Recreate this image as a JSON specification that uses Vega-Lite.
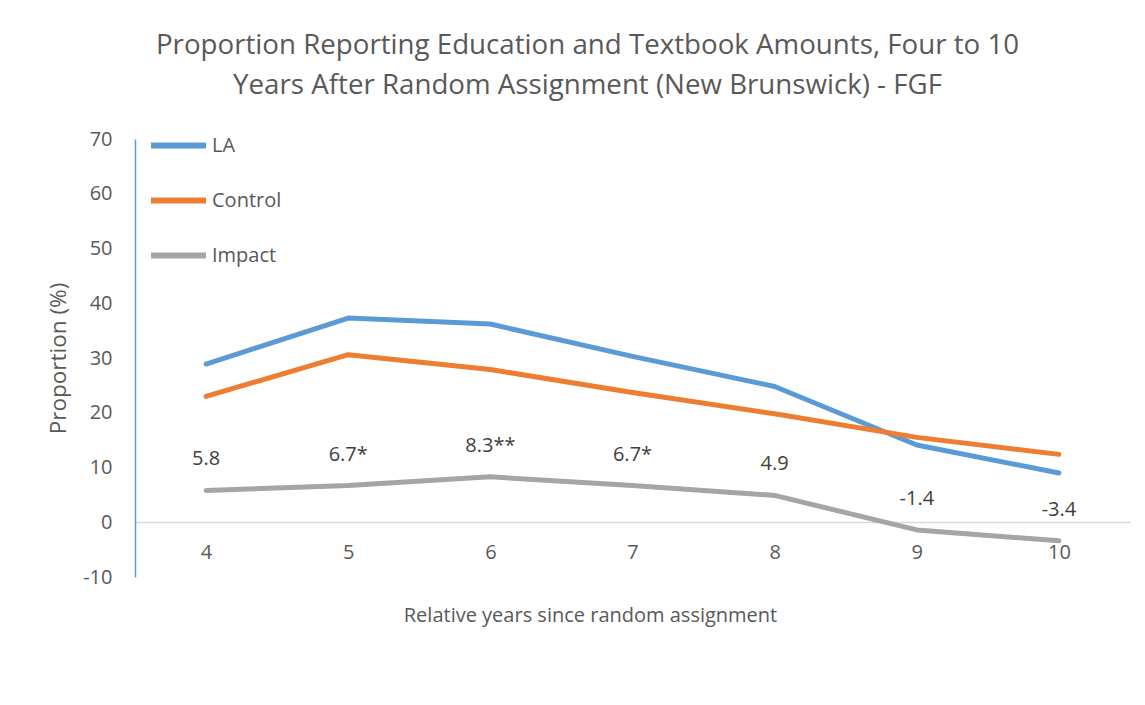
{
  "$schema": "https://vega.github.io/schema/vega-lite/v6.json",
  "width": 995,
  "height": 438,
  "autosize": {"type": "none"},
  "padding": {"left": 135, "top": 139, "right": 15, "bottom": 128},
  "background": "white",
  "config": {"view": {"stroke": null}, "font": "Open Sans"},
  "title": {
    "text": ["Proportion Reporting Education and Textbook Amounts, Four to 10", "Years After Random Assignment (New Brunswick) - FGF"],
    "fontSize": 27.7,
    "fontWeight": "normal",
    "color": "#595959",
    "lineHeight": 40,
    "anchor": "middle",
    "offset": 15,
    "dx": -45
  },
  "data": {
    "values": [
      {"year": 4, "series": "LA", "value": 28.9},
      {"year": 5, "series": "LA", "value": 37.3},
      {"year": 6, "series": "LA", "value": 36.2},
      {"year": 7, "series": "LA", "value": 30.3},
      {"year": 8, "series": "LA", "value": 24.8},
      {"year": 9, "series": "LA", "value": 14.1},
      {"year": 10, "series": "LA", "value": 9.0},
      {"year": 4, "series": "Control", "value": 23.0},
      {"year": 5, "series": "Control", "value": 30.6},
      {"year": 6, "series": "Control", "value": 27.9},
      {"year": 7, "series": "Control", "value": 23.7},
      {"year": 8, "series": "Control", "value": 19.8},
      {"year": 9, "series": "Control", "value": 15.5},
      {"year": 10, "series": "Control", "value": 12.4},
      {"year": 4, "series": "Impact", "value": 5.8, "label": "5.8"},
      {"year": 5, "series": "Impact", "value": 6.7, "label": "6.7*"},
      {"year": 6, "series": "Impact", "value": 8.3, "label": "8.3**"},
      {"year": 7, "series": "Impact", "value": 6.7, "label": "6.7*"},
      {"year": 8, "series": "Impact", "value": 4.9, "label": "4.9"},
      {"year": 9, "series": "Impact", "value": -1.4, "label": "-1.4"},
      {"year": 10, "series": "Impact", "value": -3.4, "label": "-3.4"}
    ]
  },
  "encoding": {
    "x": {
      "field": "year",
      "type": "ordinal",
      "scale": {"type": "point", "padding": 0.5},
      "axis": {
        "title": "Relative years since random assignment",
        "titleFontSize": 20,
        "titleFontWeight": "normal",
        "titleColor": "#595959",
        "titlePadding": 43,
        "titleX": 455,
        "labelAngle": 0,
        "labelFontSize": 20,
        "labelColor": "#595959",
        "labelPadding": 20,
        "ticks": false,
        "domainColor": "#D9D9D9",
        "domainWidth": 1.5,
        "offset": -55,
        "grid": false
      }
    },
    "y": {
      "field": "value",
      "type": "quantitative",
      "scale": {"domain": [-10, 70], "nice": false, "zero": false},
      "axis": {
        "title": "Proportion (%)",
        "titleFontSize": 22.5,
        "titleFontWeight": "normal",
        "titleColor": "#595959",
        "titlePadding": 12,
        "values": [-10, 0, 10, 20, 30, 40, 50, 60, 70],
        "labelExpr": "'' + datum.value",
        "labelFontSize": 20,
        "labelColor": "#595959",
        "labelPadding": 23,
        "ticks": false,
        "grid": false,
        "domainColor": "#5B9BD5",
        "domainWidth": 1.5
      }
    }
  },
  "layer": [
    {
      "mark": {"type": "line", "strokeWidth": 5, "strokeCap": "round", "strokeJoin": "round"},
      "encoding": {
        "color": {
          "field": "series",
          "type": "nominal",
          "scale": {"domain": ["LA", "Control", "Impact"], "range": ["#5B9BD5", "#ED7D31", "#A5A5A5"]},
          "legend": {
            "title": null,
            "orient": "none",
            "legendX": 13,
            "legendY": -24,
            "symbolType": "stroke",
            "symbolSize": 3025,
            "symbolStrokeWidth": 6,
            "labelFontSize": 20,
            "labelColor": "#595959",
            "labelOffset": 3,
            "rowPadding": 12
          }
        }
      }
    },
    {
      "transform": [{"filter": "datum.series === 'Impact'"}],
      "mark": {"type": "text", "dy": -31, "fontSize": 20, "color": "#404040"},
      "encoding": {"text": {"field": "label"}}
    }
  ]
}
